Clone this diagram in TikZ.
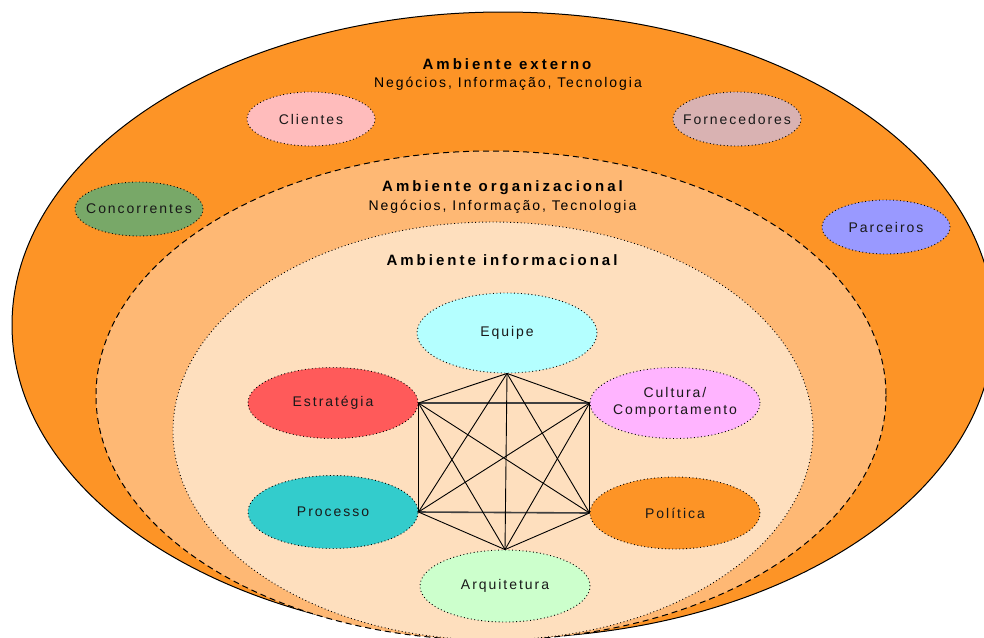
\documentclass[tikz,border=0pt]{standalone}
\usepackage{fontspec}
\setmainfont{Liberation Sans}[LetterSpace=14]
\newfontfamily\ttlfont{Liberation Sans}[LetterSpace=20]
\usetikzlibrary{shapes.geometric}
\newcommand{\bublbl}[1]{\makebox[0pt]{#1}}
\definecolor{cOuter}{RGB}{253,148,38}
\definecolor{cOrg}{RGB}{254,184,116}
\definecolor{cInfo}{RGB}{254,223,190}
\definecolor{cCli}{RGB}{255,188,188}
\definecolor{cForn}{RGB}{217,178,178}
\definecolor{cConc}{RGB}{120,168,104}
\definecolor{cParc}{RGB}{153,153,255}
\definecolor{cEquipe}{RGB}{180,255,255}
\definecolor{cEstr}{RGB}{255,90,90}
\definecolor{cCult}{RGB}{255,180,255}
\definecolor{cProc}{RGB}{51,204,204}
\definecolor{cPol}{RGB}{253,148,38}
\definecolor{cArq}{RGB}{204,255,204}
\begin{document}
\begin{tikzpicture}[x=1pt,y=-1pt,
  dotline/.style={draw=black, line width=0.9pt, dash pattern=on 0.9pt off 2.6pt},
  bub/.style={ellipse, dotline, inner sep=0pt, text=black!90,
    font=\fontsize{14}{17}\selectfont},
  outbub/.style={bub, minimum width=128pt, minimum height=54pt},
  inbub/.style={bub, minimum width=170pt, minimum height=71pt},
  ttl/.style={anchor=base, inner sep=0pt, font=\ttlfont\bfseries\fontsize{15}{18}\selectfont},
  sub/.style={anchor=base, inner sep=0pt, font=\fontsize{14}{17}\selectfont},
  link/.style={draw=black, line width=0.9pt},
  hlink/.style={draw=black!75, line width=1.6pt}]
\useasboundingbox (0,0) rectangle (984,637);
\clip (0,0) rectangle (984,637);
% environments
\path[fill=cOuter, draw=black, line width=1pt] (503,325) ellipse [x radius=491, y radius=313];
\path[fill=cOrg, draw=black, line width=1pt, dash pattern=on 6pt off 4pt] (491,395.5) ellipse [x radius=395, y radius=244.5];
\path[fill=cInfo, dotline] (493,431) ellipse [x radius=320, y radius=209];
% titles
\node[ttl] (t1) at (507,69) {Ambiente externo};
\node[sub] (s1) at (508,87) {Negócios, Informação, Tecnologia};
\node[ttl] (t2) at (502.5,191.7) {Ambiente organizacional};
\node[sub] (s2) at (502.5,210.7) {Negócios, Informação, Tecnologia};
\node[ttl] (t3) at (502,265.5) {Ambiente informacional};
% external actors
\node[outbub, fill=cCli] (cli) at (311,119) {\bublbl{Clientes}};
\node[outbub, fill=cForn] (forn) at (737,119) {\bublbl{Fornecedores}};
\node[outbub, fill=cConc] (conc) at (139,209) {\bublbl{Concorrentes}};
\node[outbub, fill=cParc] (parc) at (886,227) {\bublbl{Parceiros}};
% informational components
\node[inbub, fill=cEquipe, minimum width=180pt, minimum height=80pt] (equipe) at (507,333) {\bublbl{Equipe}};
\node[inbub, fill=cEstr] (estr) at (333,403) {\bublbl{Estratégia}};
\node[inbub, fill=cCult] (cult) at (675,403) {\bublbl{\begin{tabular}{@{}c@{}}Cultura/\\Comportamento\end{tabular}}};
\node[inbub, fill=cProc, minimum height=73pt] (proc) at (333,512) {\bublbl{Processo}};
\node[inbub, fill=cPol, minimum height=72pt] (pol) at (675,513) {\bublbl{Política}};
\node[inbub, fill=cArq, minimum height=72pt] (arq) at (505,586) {\bublbl{Arquitetura}};
% complete graph
\draw[hlink] (estr.east) -- (cult.west);
\draw[hlink] (proc.east) -- (pol.west);
\draw[link] (equipe.south) -- (estr.east);
\draw[link] (equipe.south) -- (cult.west);
\draw[link] (equipe.south) -- (proc.east);
\draw[link] (equipe.south) -- (pol.west);
\draw[link] (equipe.south) -- (arq.north);
\draw[link] (estr.east) -- (proc.east);
\draw[link] (estr.east) -- (pol.west);
\draw[link] (estr.east) -- (arq.north);
\draw[link] (cult.west) -- (proc.east);
\draw[link] (cult.west) -- (pol.west);
\draw[link] (cult.west) -- (arq.north);
\draw[link] (proc.east) -- (arq.north);
\draw[link] (pol.west) -- (arq.north);
\end{tikzpicture}
\end{document}
